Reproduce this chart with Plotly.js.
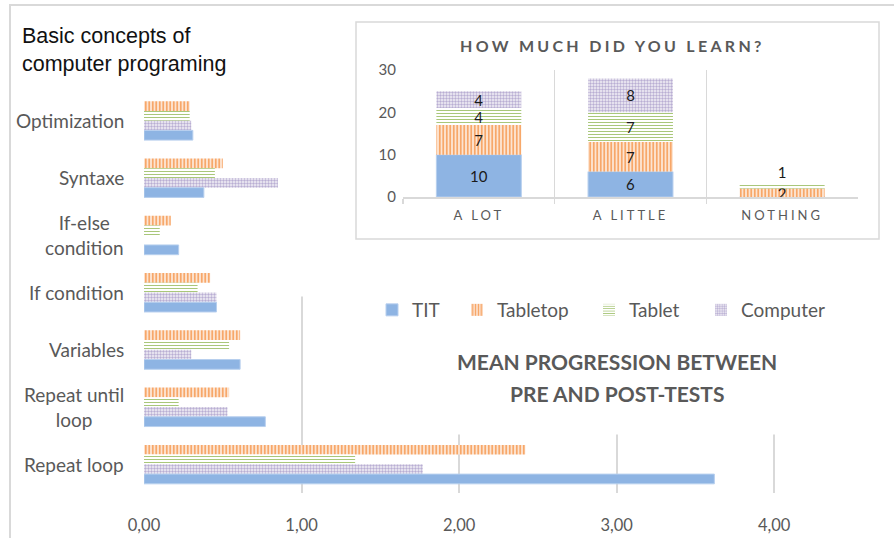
<!DOCTYPE html>
<html><head><meta charset="utf-8">
<script src="https://cdn.plot.ly/plotly-3.0.1.min.js"></script>
<style>
html,body{margin:0;padding:0;background:#fff;}
#chart{width:894px;height:538px;}
.annotation[data-index="0"] text{letter-spacing:3.3px;}
.x2tick text{letter-spacing:3px;}
</style></head><body><div id="chart"></div>
<script>
// ---- Main chart data (top-down reading order) ----
const categories = ['Optimization', 'Syntaxe', 'If-else condition', 'If condition', 'Variables', 'Repeat until loop', 'Repeat loop'];
const categoryLabels = ['Optimization', 'Syntaxe', 'If-else<br>condition', 'If condition', 'Variables', 'Repeat until<br>loop', 'Repeat loop'];
const titValues      = [0.31, 0.38, 0.22, 0.46, 0.61, 0.77, 3.62];
const tabletopValues = [0.29, 0.50, 0.17, 0.42, 0.61, 0.54, 2.42];
const tabletValues   = [0.29, 0.45, 0.10, 0.34, 0.54, 0.22, 1.34];
const computerValues = [0.30, 0.85, 0.00, 0.46, 0.30, 0.53, 1.77];
const xTicks = [0, 1, 2, 3, 4];

// ---- Inset data ----
const learnCategories = ['A LOT', 'A LITTLE', 'NOTHING'];
const learnTIT      = [10, 6, 0];
const learnTabletop = [7, 7, 2];
const learnTablet   = [4, 7, 1];
const learnComputer = [4, 8, 0];
const learnTicks = [0, 10, 20, 30];

const FONT = 'Lato, "Open Sans", sans-serif';
const GRAY = '#595959';
const GRID = '#D9D9D9';

const styles = {
  TIT:      {color: '#8EB4E3', line: {color: '#B7CFEE', width: 1}},
  Tabletop: {color: '#FCE4D2', line: {width: 0}, pattern: {shape: '|', fgcolor: '#F7A15E', bgcolor: '#FCE4D2', size: 3.5, solidity: 0.45}},
  Tablet:   {color: '#FFFFFF', line: {width: 0}, pattern: {shape: '-', fgcolor: '#A9C77A', bgcolor: '#FFFFFF', size: 3, solidity: 0.35}},
  Computer: {color: '#F4F2F8', line: {width: 0}, pattern: {shape: '.', fgcolor: '#B9AED3', bgcolor: '#F4F2F8', size: 3, solidity: 0.5}}
};

const mainSeries = [
  {name: 'Tabletop', vals: tabletopValues, legend: 'legend2'},
  {name: 'Tablet',   vals: tabletValues,   legend: 'legend3'},
  {name: 'Computer', vals: computerValues, legend: 'legend4'},
  {name: 'TIT',      vals: titValues,      legend: 'legend'}
];

const traces = mainSeries.map(s => ({
  type: 'bar', orientation: 'h', name: s.name,
  x: s.vals, y: categories,
  xaxis: 'x', yaxis: 'y',
  marker: styles[s.name], legend: s.legend,
  hoverinfo: 'x+name'
}));

// inset stacked bars (bases from cumulative sums of the series)
const insetSeries = [
  {name: 'TIT', vals: learnTIT, pos: ['inside', 'inside', 'inside']},
  {name: 'Tabletop', vals: learnTabletop, pos: ['inside', 'inside', 'inside']},
  {name: 'Tablet', vals: learnTablet, pos: ['inside', 'inside', 'outside']},
  {name: 'Computer', vals: learnComputer, pos: ['inside', 'inside', 'inside']}
];
let cum = learnCategories.map(() => 0);
insetSeries.forEach(s => {
  const base = cum.slice();
  traces.push({
    type: 'bar', name: s.name, x: learnCategories, y: s.vals, base: base,
    xaxis: 'x2', yaxis: 'y2', offsetgroup: 'inset', width: 0.56,
    marker: styles[s.name], showlegend: false,
    text: s.vals.map(v => v > 0 ? String(v) : ''),
    textposition: s.pos, insidetextanchor: 'middle', textangle: 0,
    textfont: {family: FONT, size: 15, color: '#1a1a1a'},
    outsidetextfont: {family: FONT, size: 15, color: '#1a1a1a'},
    cliponaxis: false
  });
  cum = cum.map((c, i) => c + s.vals[i]);
});

const W = 894, H = 538;
const px = v => v / W, py = v => 1 - v / H;

const annotations = [
  {text: '<b>HOW MUCH DID YOU LEARN?</b>', xref: 'paper', yref: 'paper', x: px(612), y: py(46), xanchor: 'center', yanchor: 'middle', showarrow: false, font: {family: FONT, size: 16, color: GRAY}},
  {text: '<b>MEAN PROGRESSION BETWEEN</b>', xref: 'paper', yref: 'paper', x: px(617), y: py(361), xanchor: 'center', yanchor: 'middle', showarrow: false, font: {family: FONT, size: 21, color: GRAY}},
  {text: '<b>PRE AND POST-TESTS</b>', xref: 'paper', yref: 'paper', x: px(617), y: py(393), xanchor: 'center', yanchor: 'middle', showarrow: false, font: {family: FONT, size: 21, color: GRAY}},
  {text: 'Basic concepts of<br>computer programing', xref: 'paper', yref: 'paper', x: px(20), y: py(50), xanchor: 'left', yanchor: 'middle', align: 'left', showarrow: false, font: {family: '"Liberation Sans", Arial, sans-serif', size: 21.5, color: '#111111'}}
];
categories.forEach((c, i) => {
  annotations.push({text: categoryLabels[i], xref: 'paper', yref: 'y', x: px(126), y: c, xanchor: 'right', yanchor: 'middle', align: 'center', showarrow: false, font: {family: FONT, size: 19, color: GRAY}});
});

const legendBase = {orientation: 'h', yanchor: 'middle', y: py(310), xanchor: 'left', bgcolor: 'rgba(0,0,0,0)', font: {family: FONT, size: 19, color: GRAY}};

const layout = {
  width: W, height: H,
  margin: {l: 0, r: 0, t: 0, b: 0},
  paper_bgcolor: '#FFFFFF', plot_bgcolor: '#FFFFFF',
  separators: ', ',
  barmode: 'group', bargap: 0.32, bargroupgap: 0,
  uniformtext: {mode: 'show', minsize: 15},
  font: {family: FONT, color: GRAY},
  xaxis: {
    domain: [px(144), px(853)], range: [0, 4.5], anchor: 'y',
    tickvals: xTicks, tickformat: '.2f',
    showgrid: true, gridcolor: GRID, gridwidth: 2, zeroline: false, showline: false,
    ticks: '', ticklabelstandoff: 20,
    tickfont: {family: FONT, size: 16.5, color: GRAY}, fixedrange: true
  },
  yaxis: {
    domain: [py(493), py(92)], type: 'category', range: [6.5, -0.5], anchor: 'x',
    showticklabels: false, showgrid: false, zeroline: false, showline: false, ticks: '', fixedrange: true
  },
  xaxis2: {
    domain: [px(403), px(858)], anchor: 'y2', type: 'category', range: [-0.5, 2.5],
    tickson: 'boundaries', showgrid: true, gridcolor: GRID, gridwidth: 1.5,
    showline: true, linecolor: GRID, linewidth: 1.5,
    ticks: 'outside', ticklen: 5, tickcolor: GRID, tickwidth: 1.5, ticklabelstandoff: 6,
    tickfont: {family: FONT, size: 13, color: GRAY}, fixedrange: true
  },
  yaxis2: {
    domain: [py(197), py(70)], anchor: 'x2', range: [0, 30], tickvals: learnTicks,
    showgrid: false, zeroline: false, showline: false, ticks: '', ticklabelstandoff: 6,
    tickfont: {family: FONT, size: 15, color: GRAY}, fixedrange: true
  },
  legend:  Object.assign({}, legendBase, {x: px(372)}),
  legend2: Object.assign({}, legendBase, {x: px(457)}),
  legend3: Object.assign({}, legendBase, {x: px(589)}),
  legend4: Object.assign({}, legendBase, {x: px(701)}),
  shapes: [
    {type: 'rect', xref: 'paper', yref: 'paper', layer: 'below', x0: px(10), y0: py(5), x1: 1.05, y1: -0.05, line: {color: GRID, width: 2}, fillcolor: 'rgba(0,0,0,0)'},
    {type: 'rect', xref: 'x', yref: 'y', layer: 'between', x0: 0.9, x1: 1.45, y0: -0.5, y1: 3.07, fillcolor: '#FFFFFF', line: {width: 0}},
    {type: 'rect', xref: 'x', yref: 'y', layer: 'between', x0: 1.45, x1: 4.6, y0: -0.5, y1: 5.48, fillcolor: '#FFFFFF', line: {width: 0}},
    {type: 'rect', xref: 'paper', yref: 'paper', layer: 'above', x0: px(356), x1: px(879), y0: py(239), y1: py(22), fillcolor: 'rgba(0,0,0,0)', line: {color: GRID, width: 1.5}}
  ],
  annotations: annotations
};

Plotly.newPlot('chart', traces, layout, {displayModeBar: false, staticPlot: true});
</script></body></html>
